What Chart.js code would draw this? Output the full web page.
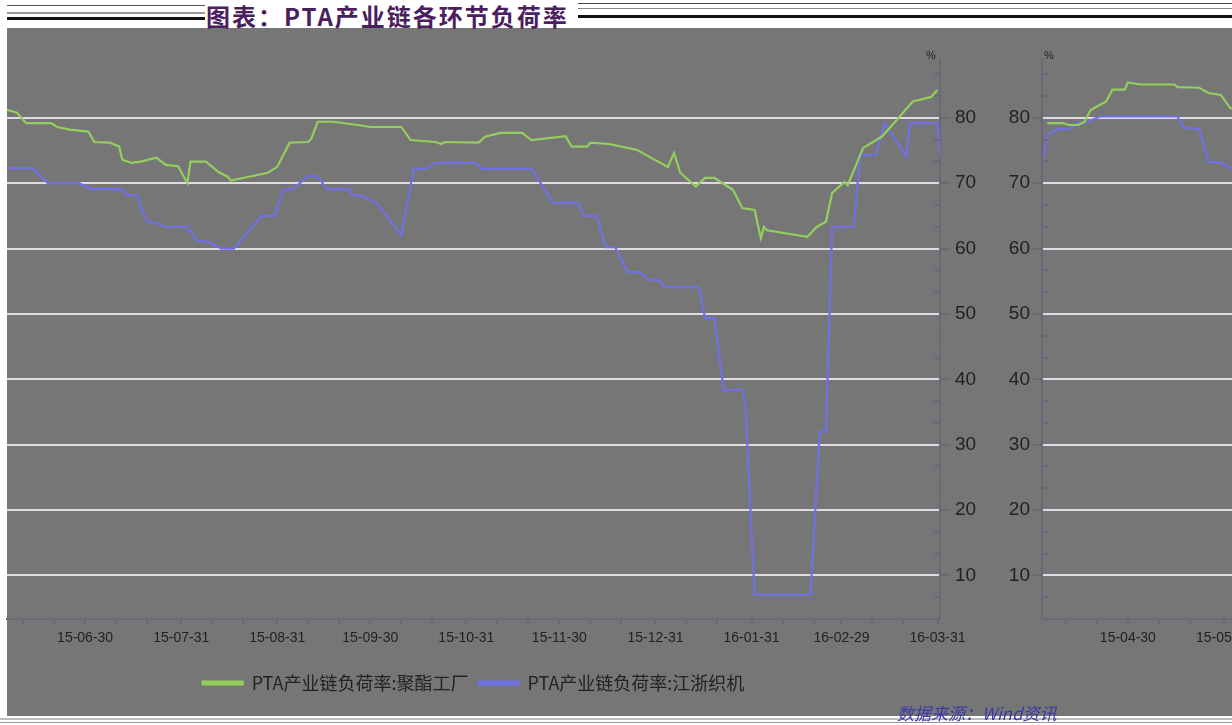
<!DOCTYPE html>
<html>
<head>
<meta charset="utf-8">
<script src="https://cdn.jsdelivr.net/npm/chart.js@4.4.0/dist/chart.umd.min.js"></script>
<style>
html, body { margin: 0; padding: 0; width: 1232px; height: 725px; overflow: hidden; background: #fff; }
#bg { position: absolute; left: 7px; top: 28px; width: 1225px; height: 688px; background: #767676; }
.ln { position: absolute; height: 1px; }
#title { position: absolute; left: 206px; top: -2px; font: bold 24px 'Noto Sans CJK SC', sans-serif; letter-spacing: 2px; color: #4b1f5e; white-space: nowrap; }
.unit { position: absolute; top: 49px; font: 11px 'Liberation Sans', sans-serif; color: #222; }
#src { position: absolute; left: 897px; top: 700px; font: italic 17px 'Noto Sans CJK SC', sans-serif; color: #3a3aa8; white-space: nowrap; }
canvas { position: absolute; top: 0; }
#main { left: 0; }
#side { left: 960px; }
</style>
</head>
<body>
<div id="bg"></div>
<div class="ln" style="left:7px;top:5px;width:198px;background:#555"></div>
<div class="ln" style="left:7px;top:12px;width:198px;height:2px;background:#999"></div>
<div class="ln" style="left:7px;top:17px;width:198px;height:3px;background:#111"></div>
<div class="ln" style="left:578px;top:3px;width:654px;background:#444"></div>
<div class="ln" style="left:578px;top:8px;width:654px;background:#888"></div>
<div class="ln" style="left:578px;top:15px;width:654px;height:3px;background:#111"></div>
<div id="title">图表：PTA产业链各环节负荷率</div>
<div class="ln" style="left:0;top:718px;width:1232px;height:2px;background:#bbb"></div>
<div class="ln" style="left:0;top:722px;width:1232px;background:#999"></div>
<canvas id="main" width="1000" height="725"></canvas>
<canvas id="side" width="300" height="725"></canvas>
<div class="unit" style="left:926px">%</div>
<div class="unit" style="left:1044px">%</div>
<div id="src">数据来源：Wind资讯</div>
<script>
// PTA产业链负荷率:聚酯工厂
const greenDates = ['2015-04-04','2015-04-09','2015-04-11','2015-04-14','2015-04-16','2015-04-18','2015-04-21','2015-04-23','2015-04-25','2015-04-29',
  '2015-04-30','2015-05-04','2015-05-15','2015-05-16','2015-05-23','2015-05-26','2015-05-30','2015-06-02','2015-06-05','2015-06-08',
  '2015-06-11','2015-06-19','2015-06-21','2015-06-25','2015-07-01','2015-07-03','2015-07-08','2015-07-11','2015-07-12','2015-07-15',
  '2015-07-18','2015-07-23','2015-07-26','2015-07-30','2015-08-02','2015-08-03','2015-08-08','2015-08-12','2015-08-15','2015-08-16',
  '2015-08-28','2015-08-31','2015-09-04','2015-09-10','2015-09-11','2015-09-13','2015-09-18','2015-09-26','2015-09-30','2015-10-10',
  '2015-10-13','2015-10-21','2015-10-23','2015-10-24','2015-11-04','2015-11-06','2015-11-11','2015-11-18','2015-11-21','2015-12-02',
  '2015-12-04','2015-12-09','2015-12-10','2015-12-16','2015-12-25','2015-12-28','2016-01-04','2016-01-06','2016-01-08','2016-01-13',
  '2016-01-16','2016-01-19','2016-01-25','2016-01-28','2016-02-01','2016-02-03','2016-02-04','2016-02-05','2016-02-18','2016-02-21',
  '2016-02-24','2016-02-26','2016-03-01','2016-03-02','2016-03-07','2016-03-13','2016-03-17','2016-03-23','2016-03-29','2016-03-31'];
const greenVals = [79.2,79.2,78.9,78.9,79.4,81.2,82.0,82.5,84.3,84.3,
  85.4,85.1,85.1,84.7,84.6,83.8,83.5,81.5,81.2,80.8,
  79.2,79.2,78.6,78.2,77.9,76.3,76.2,75.6,73.6,73.1,
  73.3,73.9,72.8,72.6,70.0,73.3,73.3,71.7,71.0,70.4,
  71.6,72.5,76.2,76.3,76.8,79.4,79.4,78.9,78.6,78.6,
  76.6,76.3,76.0,76.3,76.2,77.1,77.7,77.7,76.6,77.2,
  75.6,75.6,76.2,76.0,75.1,74.3,72.5,74.6,71.6,69.5,
  70.8,70.8,69.0,66.2,65.9,61.6,63.3,62.8,61.8,63.3,
  64.1,68.5,70.2,69.7,75.4,77.1,79.2,82.5,83.2,84.3];

// PTA产业链负荷率:江浙织机
const blueDates = ['2015-04-03','2015-04-04','2015-04-07','2015-04-11','2015-04-14','2015-04-17','2015-04-21','2015-05-16','2015-05-18','2015-05-23',
  '2015-05-26','2015-05-30','2015-06-02','2015-06-13','2015-06-18','2015-06-28','2015-07-02','2015-07-12','2015-07-13','2015-07-17',
  '2015-07-18','2015-07-20','2015-07-23','2015-07-26','2015-08-02','2015-08-05','2015-08-09','2015-08-13','2015-08-17','2015-08-26',
  '2015-08-30','2015-09-02','2015-09-05','2015-09-10','2015-09-13','2015-09-16','2015-09-23','2015-09-24','2015-09-27','2015-10-02',
  '2015-10-10','2015-10-14','2015-10-18','2015-10-21','2015-11-03','2015-11-05','2015-11-21','2015-11-28','2015-12-06','2015-12-08',
  '2015-12-12','2015-12-15','2015-12-18','2015-12-22','2015-12-26','2015-12-29','2016-01-01','2016-01-03','2016-01-14','2016-01-16',
  '2016-01-19','2016-01-22','2016-01-28','2016-01-29','2016-02-01','2016-02-19','2016-02-22','2016-02-24','2016-02-26','2016-03-04',
  '2016-03-06','2016-03-11','2016-03-14','2016-03-21','2016-03-22','2016-03-31','2016-04-01'];
const blueVals = [74.0,77.4,78.2,78.3,79.2,79.4,80.2,80.2,78.5,78.3,
  73.3,73.1,72.3,72.3,70.0,70.0,69.1,69.1,68.2,68.1,
  66.2,64.1,63.9,63.3,63.3,61.2,61.0,60.0,60.0,65.0,
  65.0,69.0,69.1,71.1,71.1,69.1,69.1,68.2,68.1,67.0,
  62.0,72.2,72.2,73.1,73.1,72.2,72.2,67.0,67.0,65.0,
  65.0,60.2,60.2,56.4,56.4,55.2,55.2,54.1,54.1,49.4,
  49.4,38.4,38.4,36.0,7.0,7.0,32.0,32.0,63.3,63.3,
  74.3,74.3,79.2,74.0,79.2,79.2,74.0];

const seriesNames = ['PTA产业链负荷率:聚酯工厂', 'PTA产业链负荷率:江浙织机'];
const seriesColors = ['#93cf5e', '#7070e6'];
const tickDates = ['2015-03-31','2015-04-30','2015-05-31','2015-06-30','2015-07-31','2015-08-31','2015-09-30',
  '2015-10-31','2015-11-30','2015-12-31','2016-01-31','2016-02-29','2016-03-31'];
const yTicks = [10, 20, 30, 40, 50, 60, 70, 80];

const axisColor = '#6c6878';
const gridColor = '#e2dae2';
const textColor = '#222';
const base = Date.parse('2015-06-30');
const day = s => (Date.parse(s) - base) / 86400000;

const tickLabel = {};
tickDates.forEach(s => { tickLabel[day(s)] = s.slice(2); });

function xTickValues(min, max) {
  const out = [];
  for (let y = 2015; y <= 2016; y++) {
    for (let m = 0; m < 12; m++) {
      [Date.UTC(y, m, 10), Date.UTC(y, m, 20), Date.UTC(y, m + 1, 0)].forEach(t => {
        const d = (t - base) / 86400000;
        if (d >= min && d <= max) out.push({ value: d });
      });
    }
  }
  return out;
}

const yMinor = [];
for (let k = 0; k <= 8; k++) { yMinor.push(k * 10 + 3.33, k * 10 + 6.67); }

const minorTicks = {
  id: 'minorTicks',
  afterDraw(chart) {
    const y = chart.scales.y, ctx = chart.ctx;
    const right = y.position === 'right';
    const x0 = right ? y.left : y.right;
    ctx.save();
    ctx.strokeStyle = axisColor;
    ctx.lineWidth = 2;
    yMinor.forEach(v => {
      if (v < y.min || v > y.max) return;
      const py = Math.round(y.getPixelForValue(v));
      ctx.beginPath();
      ctx.moveTo(x0, py);
      ctx.lineTo(x0 + (right ? -6 : 6), py);
      ctx.stroke();
    });
    ctx.restore();
  }
};

function makeDatasets() {
  return [
    { label: seriesNames[0], data: greenDates.map((d, i) => ({ x: day(d), y: greenVals[i] })),
      borderColor: seriesColors[0], backgroundColor: seriesColors[0], borderWidth: 2.2, pointRadius: 0, tension: 0 },
    { label: seriesNames[1], data: blueDates.map((d, i) => ({ x: day(d), y: blueVals[i] })),
      borderColor: seriesColors[1], backgroundColor: seriesColors[1], borderWidth: 2.2, pointRadius: 0, tension: 0 }
  ];
}

function makeOptions(xmin, xmax, ypos, ywidth, showLegend, pad) {
  return {
    responsive: false,
    animation: false,
    devicePixelRatio: 1,
    layout: { padding: pad },
    plugins: {
      legend: {
        display: showLegend,
        position: 'bottom',
        fullSize: false,
        labels: { boxWidth: 40, boxHeight: 3, padding: 10, color: textColor,
          font: { family: "'Noto Sans CJK SC', sans-serif", size: 18 } }
      },
      tooltip: { enabled: false }
    },
    scales: {
      x: {
        type: 'linear', min: xmin, max: xmax,
        afterBuildTicks: s => { s.ticks = xTickValues(xmin, xmax); },
        afterFit: s => { s.height = 45; },
        grid: { drawOnChartArea: false, color: axisColor, tickLength: 6, lineWidth: 2 },
        border: { color: axisColor, width: 2 },
        ticks: { autoSkip: false, maxRotation: 0, padding: 5, color: textColor,
          font: { family: "'Liberation Sans', sans-serif", size: 14 },
          callback: v => tickLabel[v] || '' }
      },
      y: {
        position: ypos, min: 3.33, max: 89,
        afterBuildTicks: s => { s.ticks = yTicks.map(v => ({ value: v })); },
        afterFit: s => { s.width = ywidth; },
        grid: { color: gridColor, lineWidth: 2, tickColor: axisColor, tickLength: 10 },
        border: { color: axisColor, width: 2 },
        ticks: { padding: ypos === 'right' ? 5 : 2, color: textColor,
          font: { family: "'Liberation Sans', sans-serif", size: 19 } }
      }
    }
  };
}

// main panel: 2015-06-05 .. 2016-03-31
new Chart(document.getElementById('main'), {
  type: 'line',
  data: { datasets: makeDatasets() },
  options: makeOptions(-25.2, 275.8, 'right', 60, true, { left: 7, top: 59, right: 0, bottom: 23 }),
  plugins: [minorTicks]
});

// wrapped-around start of the chart: 2015-04 .. 2015-06
new Chart(document.getElementById('side'), {
  type: 'line',
  data: { datasets: makeDatasets() },
  options: makeOptions(-88.7, -18.4, 'left', 82, false, { left: 0, top: 59, right: 0, bottom: 61 }),
  plugins: [minorTicks]
});
</script>
</body>
</html>
